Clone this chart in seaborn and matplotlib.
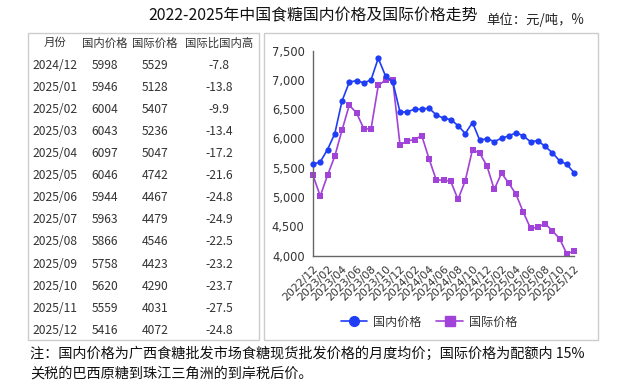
import numpy as np
import pandas as pd
import matplotlib
matplotlib.use('Agg')
import matplotlib.pyplot as plt
import seaborn as sns
from matplotlib.patches import Rectangle
from matplotlib.lines import Line2D

# monthly data 2022/12 - 2025/12
months = pd.period_range('2022-12', '2025-12', freq='M').strftime('%Y/%m').tolist()
domestic = [5560, 5600, 5810, 6080, 6640, 6960, 6990, 6950, 7000, 7370,
            7070, 6970, 6450, 6455, 6500, 6500, 6518, 6403, 6346, 6323,
            6221, 6084, 6272, 5970, 5998, 5946, 6004, 6043, 6097, 6046,
            5944, 5963, 5866, 5758, 5620, 5559, 5416]
intl = [5370, 5016, 5370, 5695, 6141, 6569, 6438, 6169, 6158, 6906,
        6997, 6997, 5890, 5958, 5981, 6049, 5655, 5290, 5290, 5267,
        4959, 5278, 5810, 5747, 5529, 5128, 5407, 5236, 5047, 4742,
        4467, 4479, 4546, 4423, 4290, 4031, 4072]

# table on the left
tbl_header = ['月份', '国内价格', '国际价格', '国际比国内高']
tbl_months = ['2024/12', '2025/01', '2025/02', '2025/03', '2025/04', '2025/05', '2025/06',
              '2025/07', '2025/08', '2025/09', '2025/10', '2025/11', '2025/12']
tbl_domestic = ['5998', '5946', '6004', '6043', '6097', '6046', '5944', '5963', '5866',
                '5758', '5620', '5559', '5416']
tbl_intl = ['5529', '5128', '5407', '5236', '5047', '4742', '4467', '4479', '4546',
            '4423', '4290', '4031', '4072']
tbl_ratio = ['-7.8', '-13.8', '-9.9', '-13.4', '-17.2', '-21.6', '-24.8', '-24.9',
             '-22.5', '-23.2', '-23.7', '-27.5', '-24.8']

y_ticks = [4000, 4500, 5000, 5500, 6000, 6500, 7000, 7500]
y_labels = ['4,000', '4,500', '5,000', '5,500', '6,000', '6,500', '7,000', '7,500']

title = '2022-2025年中国食糖国内价格及国际价格走势'
unit = '单位：元/吨，%'
note1 = '注：国内价格为广西食糖批发市场食糖现货批发价格的月度均价；国际价格为配额内 15%'
note2 = '关税的巴西原糖到珠江三角洲的到岸税后价。'

sns.set_style('white')
plt.rcParams['font.family'] = ['Noto Sans CJK SC', 'DejaVu Sans']

W, H = 623, 386
fig = plt.figure(figsize=(W / 100, H / 100), dpi=100)

def fx(px):
    return px / W

def fy(py):
    return 1 - py / H

# title and unit
fig.text(fx(313), fy(16), title, ha='center', va='center', fontsize=11.4, color='#111111')
fig.text(fx(486), fy(20), unit, ha='left', va='center', fontsize=9.6, color='#222222')

# panel boxes
for x0, x1 in [(28, 259), (264, 598)]:
    fig.patches.append(Rectangle((fx(x0), fy(340)), fx(x1) - fx(x0), fy(33) - fy(340),
                                 transform=fig.transFigure, fill=False,
                                 edgecolor='#cccccc', linewidth=1.0))

# table text
txt_col = '#333333'
row_y0, row_dy = 43, 22.1
fig.text(fx(55), fy(row_y0), tbl_header[0], ha='center', va='center', fontsize=8.2, color=txt_col)
fig.text(fx(105), fy(row_y0), tbl_header[1], ha='center', va='center', fontsize=8.2, color=txt_col)
fig.text(fx(155), fy(row_y0), tbl_header[2], ha='center', va='center', fontsize=8.2, color=txt_col)
fig.text(fx(219), fy(row_y0), tbl_header[3], ha='center', va='center', fontsize=8.2, color=txt_col)
for i in range(len(tbl_months)):
    yy = fy(row_y0 + row_dy * (i + 1))
    fig.text(fx(32), yy, tbl_months[i], ha='left', va='center', fontsize=8.7, color=txt_col)
    fig.text(fx(105), yy, tbl_domestic[i], ha='center', va='center', fontsize=8.7, color=txt_col)
    fig.text(fx(155), yy, tbl_intl[i], ha='center', va='center', fontsize=8.7, color=txt_col)
    fig.text(fx(219), yy, tbl_ratio[i], ha='center', va='center', fontsize=8.7, color=txt_col)

# line chart
df = pd.DataFrame({'idx': np.arange(len(months)), '国内价格': domestic, '国际价格': intl})
blue = '#1f3df5'
purple = '#a142d8'

ax = fig.add_axes([fx(313), fy(255.5), fx(574) - fx(313), fy(50.7) - fy(255.5)])
sns.lineplot(data=df, x='idx', y='国内价格', ax=ax, color=blue, marker='o',
             markersize=4.5, markeredgewidth=0, linewidth=1.2, clip_on=False, zorder=3)
sns.lineplot(data=df, x='idx', y='国际价格', ax=ax, color=purple, marker='s',
             markersize=4.5, markeredgewidth=0, linewidth=1.2, clip_on=False, zorder=2)

ax.set_xlim(0, len(months) - 1)
ax.set_ylim(4000, 7500)
ax.set_yticks(y_ticks)
ax.set_yticklabels(y_labels, family='DejaVu Sans', fontsize=8.3, color='#333333')
ax.set_xticks(range(0, len(months), 2))
ax.set_xticklabels(months[::2], rotation=45, ha='right', rotation_mode='anchor',
                   family='DejaVu Sans', fontsize=7.8, color='#333333')
ax.set_xlabel('')
ax.set_ylabel('')
for s in ['top', 'right']:
    ax.spines[s].set_visible(False)
for s in ['left', 'bottom']:
    ax.spines[s].set_color('#666666')
    ax.spines[s].set_linewidth(1.0)
ax.tick_params(axis='both', direction='out', length=4, width=1, color='#666666', pad=2)
ax.grid(False)

handles = [Line2D([], [], color=blue, marker='o', markersize=7, linewidth=1.2),
           Line2D([], [], color=purple, marker='s', markersize=7, linewidth=1.2)]
fig.legend(handles, ['国内价格', '国际价格'], loc='center', bbox_to_anchor=(fx(429), fy(322)),
           ncol=2, frameon=False, fontsize=8.7, handlelength=2.2, columnspacing=1.2,
           handletextpad=0.5, labelcolor='#333333')

# footnote
fig.text(fx(30), fy(354), note1, ha='left', va='center', fontsize=10.2, color='#111111')
fig.text(fx(30), fy(374), note2, ha='left', va='center', fontsize=10.2, color='#111111')

fig.savefig('out.png', dpi=100)
